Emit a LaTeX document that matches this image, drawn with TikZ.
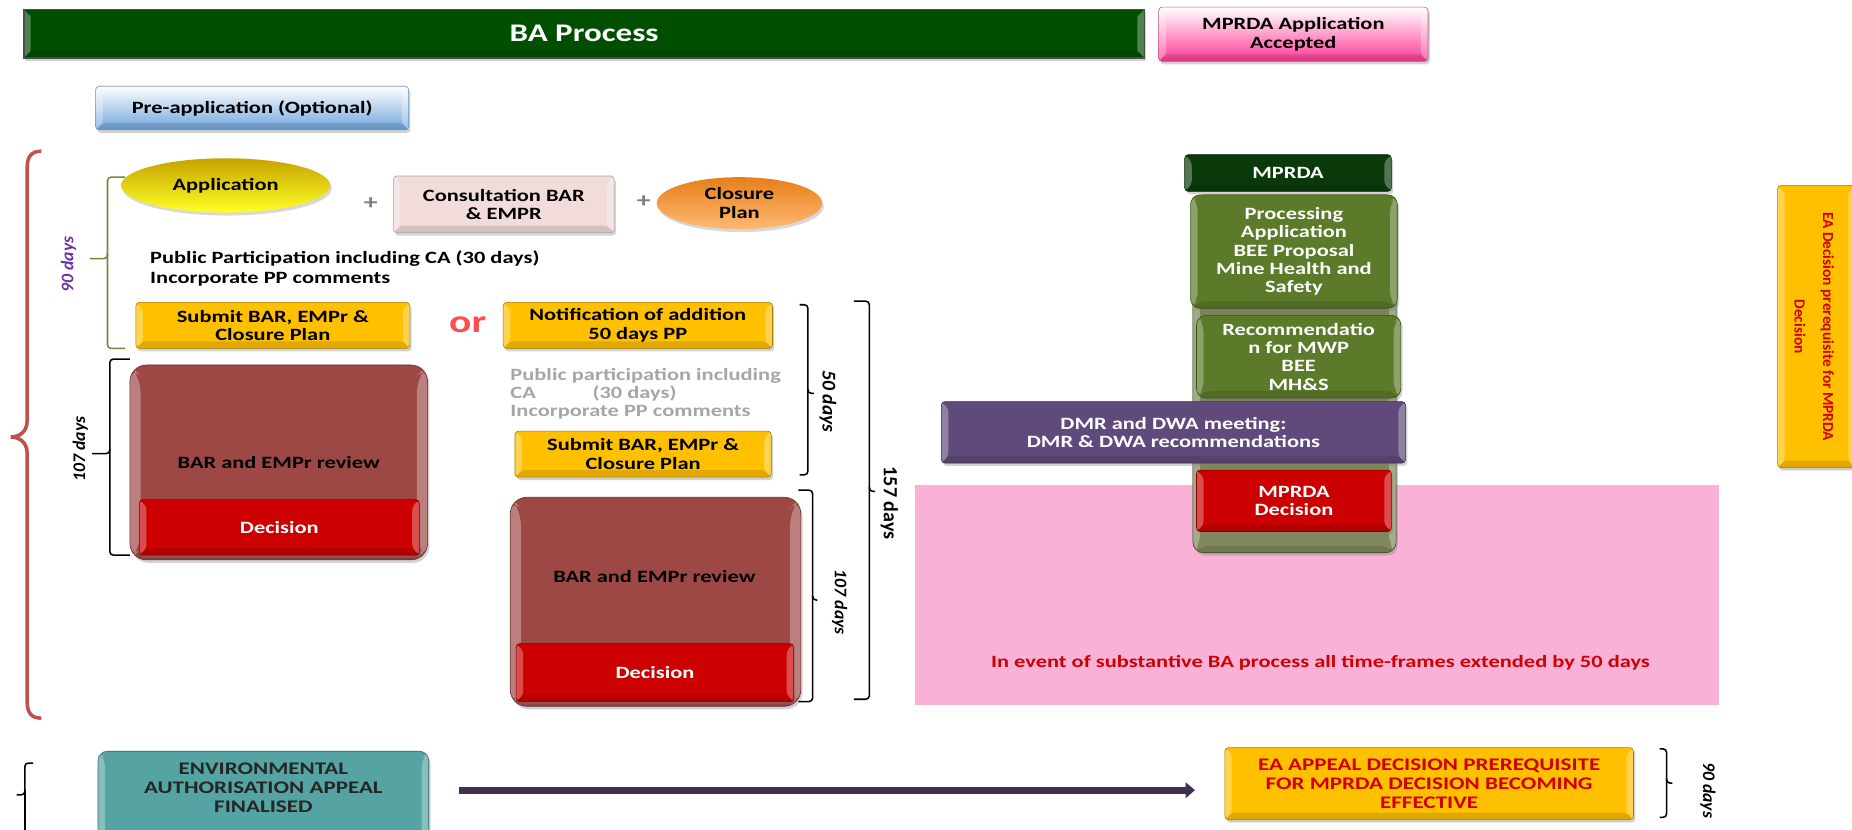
\documentclass[tikz,border=0pt]{standalone}
\usepackage{fontspec}
\setmainfont{Carlito}[FakeStretch=1.3]
\newfontfamily\rotfont{Carlito}
\usetikzlibrary{shadows,shapes.geometric,arrows.meta}
\definecolor{cBA}{HTML}{007000}
\definecolor{cBAd}{HTML}{004F00}
\definecolor{cHot}{HTML}{FF3A96}
\definecolor{cBlue}{HTML}{6FA6DC}
\definecolor{cYel}{HTML}{FFC000}
\definecolor{cRose}{HTML}{F2DCDB}
\definecolor{cRev}{HTML}{9E4846}
\definecolor{cDec}{HTML}{CC0000}
\definecolor{cDkGreen}{HTML}{0A3A0A}
\definecolor{cOliv}{HTML}{5B7A2A}
\definecolor{cCol}{HTML}{5F6C32}
\definecolor{cPurp}{HTML}{604A7B}
\definecolor{cPink}{HTML}{F9B1D8}
\definecolor{cTeal}{HTML}{55A3A3}
\definecolor{cArrow}{HTML}{403152}
\definecolor{cRedTxt}{HTML}{D00000}
\definecolor{cGrey}{HTML}{A6A6A6}
\definecolor{cBrace}{HTML}{C0504D}
\definecolor{cGBrace}{HTML}{6E8B3D}
\definecolor{cPurTxt}{HTML}{7030A0}
\newcommand\myfs{\fontsize{14.6}{15.5}\selectfont}
\tikzset{
  bevel/.style={path picture={
    \fill[white,opacity=0.3] (path picture bounding box.north west) -- ++(#1,-#1)
      -- ([shift={(#1,#1)}]path picture bounding box.south west) -- (path picture bounding box.south west) -- cycle;
    \fill[white,opacity=0.3] (path picture bounding box.north east) -- ++(-#1,-#1)
      -- ([shift={(-#1,#1)}]path picture bounding box.south east) -- (path picture bounding box.south east) -- cycle;
    \fill[black,opacity=0.12] (path picture bounding box.south west) -- ([shift={(#1,#1)}]path picture bounding box.south west)
      -- ([shift={(-#1,#1)}]path picture bounding box.south east) -- (path picture bounding box.south east) -- cycle;
  }},
  pbox/.style={draw=#1!65!black, line width=0.5pt, rounded corners=3pt, fill=#1,
    drop shadow={opacity=0.35,shadow xshift=1.5pt,shadow yshift=-2.5pt},
    inner sep=0pt, align=center, font=\bfseries\myfs, bevel=6pt},
  brk/.style={draw=black, line width=1.3pt, rounded corners=3pt},
  rlab/.style={font=\rotfont\itshape\bfseries\fontsize{15}{16}\selectfont, inner sep=0pt},
  txt/.style={font=\bfseries\myfs, inner sep=0pt, align=left},
}
\begin{document}
\begin{tikzpicture}[x=1pt,y=-1pt]
\clip (0,0) rectangle (1568,702);
\fill[white] (0,0) rectangle (1568,702);

% ---- top row
\node[pbox=cBA, rounded corners=0pt, draw=black!70, line width=1.5pt, top color=cBAd, middle color=cBA, bottom color=cBAd,
      minimum width=949pt, minimum height=41pt, font=\bfseries\fontsize{21.5}{24}\selectfont, text=white] (ba) at (494.5,28.5) {BA Process};
\node[pbox=cHot, top color=white, bottom color=cHot, draw=cHot!50!gray, minimum width=228pt, minimum height=46pt] (acc) at (1095,29) {MPRDA Application\\Accepted};
\node[pbox=cBlue, top color=white, bottom color=cBlue, draw=cBlue!60!gray, minimum width=265pt, minimum height=37pt] (pre) at (213.5,91.5) {Pre-application (Optional)};

% ---- big red brace
\draw[cBrace, line width=3pt] (35,128) .. controls (27,128) and (23,132) .. (23,142) -- (23,356)
   .. controls (23,366) and (16,370) .. (9,370) .. controls (16,370) and (23,374) .. (23,384)
   -- (23,594) .. controls (23,604) and (27,608) .. (35,608);
% green brace
\draw[cGBrace, line width=1.3pt, rounded corners=3pt] (106,150) -- (91,150) -- (91,219) -- (76,219);
\draw[cGBrace, line width=1.3pt, rounded corners=3pt] (91,215) -- (91,295) -- (106,295);
\node[rlab, text=cPurTxt, rotate=90] (d90) at (58,224) {90 days};

% ---- application row
\node[ellipse, inner sep=0pt, minimum width=177pt, minimum height=46pt, top color=cYel!55!olive, bottom color=yellow!85!white,
      drop shadow={opacity=0.3,shadow xshift=1.5pt,shadow yshift=-2.5pt}, font=\bfseries\myfs] (app) at (191,157) {Application};
\node[font=\bfseries\fontsize{18}{18}\selectfont, text=gray, inner sep=0pt] (plusa) at (314,172) {+};
\node[pbox=cRose, draw=gray!70, minimum width=187pt, minimum height=48pt] (cons) at (426.5,173) {Consultation BAR\\\& EMPR};
\node[font=\bfseries\fontsize{18}{18}\selectfont, text=gray, inner sep=0pt] (plusb) at (545,171) {+};
\node[ellipse, inner sep=0pt, align=center, minimum width=140pt, minimum height=44pt, top color=orange!60!brown, bottom color=orange!55!white,
      drop shadow={opacity=0.3,shadow xshift=1.5pt,shadow yshift=-2.5pt}, font=\bfseries\myfs] (clos) at (626,172) {Closure\\Plan};

\node[txt, anchor=west, font=\bfseries\fontsize{14.6}{17}\selectfont] (pp) at (127,227.5) {Public Participation including CA (30 days)\\Incorporate PP comments};

\node[pbox=cYel, minimum width=232pt, minimum height=39pt] (sub1) at (231,275.5) {Submit BAR, EMPr \&\\Closure Plan};
\node[font=\bfseries\fontsize{27}{27}\selectfont, text=red!70!white, inner sep=0pt] (or) at (396,275) {or};
\node[pbox=cYel, minimum width=228pt, minimum height=39pt] (notif) at (540,275.5) {Notification of addition\\50 days PP};

\node[txt, anchor=west, text=cGrey] (pp2) at (432,333.5) {Public participation including\\CA\hspace*{48pt}(30 days)\\Incorporate PP comments};
\node[pbox=cYel, minimum width=217pt, minimum height=39pt] (sub2) at (544.5,384.5) {Submit BAR, EMPr \&\\Closure Plan};

% ---- review boxes
\node[pbox=cRev, rounded corners=14pt, bevel=9pt, minimum width=252pt, minimum height=165pt] (rev1) at (236,391.5) {BAR and EMPr review};
\node[pbox=cDec, text=white, minimum width=237pt, minimum height=47pt] (dec1) at (236.5,446.5) {Decision};
\node[pbox=cRev, rounded corners=14pt, bevel=9pt, minimum width=246pt, minimum height=177pt] (rev2) at (555,509.5) {};
\node[txt] (rev2t) at (554,488) {BAR and EMPr review};
\node[pbox=cDec, text=white, minimum width=235pt, minimum height=49pt] (dec2) at (554.5,569.5) {Decision};

% ---- brackets
\draw[brk] (110,304) -- (93,304) -- (93,384) -- (78,384);
\draw[brk] (93,380) -- (93,470) -- (110,470);
\node[rlab, rotate=90] (d107a) at (68,380) {107 days};
\draw[brk] (677,258) -- (684,258) -- (684,333) -- (689,333);
\draw[brk] (684,329) -- (684,402) -- (677,402);
\node[rlab, font=\rotfont\itshape\bfseries\fontsize{16.5}{17}\selectfont, rotate=-90] (d50) at (701,340) {50 days};
\draw[brk] (723,255) -- (736,255) -- (736,416) -- (741,416);
\draw[brk] (736,412) -- (736,592) -- (723,592);
\node[font=\rotfont\bfseries\fontsize{17}{18}\selectfont, inner sep=0pt, rotate=-90] (d157) at (753,426) {157 days};
\draw[brk] (676,415) -- (688,415) -- (688,508) -- (692,508);
\draw[brk] (688,504) -- (688,594) -- (676,594);
\node[rlab, rotate=-90] (d107b) at (711,510) {107 days};

% ---- pink area
\node[fill=cPink, minimum width=680pt, minimum height=186pt, inner sep=0pt] (pink) at (1115,504) {};
\node[font=\bfseries\myfs, text=cRedTxt, inner sep=0pt] (pinkt) at (1118,561) {In event of substantive BA process all time-frames extended by 50 days};

% ---- MPRDA column
\node[pbox=cCol, rounded corners=9pt, top color=cCol!85!white, bottom color=cCol!80!white, minimum width=172pt, minimum height=303pt] (col) at (1096,316.5) {};
\node[pbox=cDkGreen, text=white, minimum width=175pt, minimum height=31pt] (mp) at (1090.5,146.5) {MPRDA};
\node[pbox=cOliv, rounded corners=8pt, text=white, minimum width=175pt, minimum height=96pt] (proc) at (1095.5,213) {Processing\\Application\\BEE Proposal\\Mine Health and\\Safety};
\node[pbox=cOliv, rounded corners=8pt, text=white, minimum width=173pt, minimum height=70pt] (rec) at (1099.5,302) {Recommendatio\\n for MWP\\BEE\\MH\&S};
\node[pbox=cPurp, text=white, minimum width=393pt, minimum height=52pt] (dmr) at (993.5,366) {DMR and DWA meeting:\\DMR \& DWA recommendations};
\node[pbox=cDec, text=white, minimum width=165pt, minimum height=52pt] (mdec) at (1095.5,424) {MPRDA\\Decision};

% ---- EA decision vertical
\node[pbox=cYel, minimum width=66pt, minimum height=239pt] (ead) at (1538,276.5) {};
\node[font=\rotfont\bfseries\fontsize{13}{24}\selectfont, text=cRedTxt, inner sep=0pt, align=center, rotate=-90] (eadt) at (1536,276.5) {EA Decision prerequisite for MPRDA\\Decision};

% ---- bottom row
\draw[brk] (28,646) -- (21,646) -- (21,673) -- (14,673);
\draw[brk] (21,669) -- (21,760);
\node[pbox=cTeal, rounded corners=8pt, minimum width=280pt, minimum height=80pt] (teal) at (223,676) {};
\node[text=black!85, inner sep=0pt, align=center, font=\bfseries\fontsize{15}{16}\selectfont] (tealt) at (223,667) {ENVIRONMENTAL\\AUTHORISATION APPEAL\\FINALISED};
\node[pbox=cYel, text=cRedTxt, minimum width=346pt, minimum height=61pt, font=\bfseries\fontsize{15}{16}\selectfont] (appeal) at (1210,663.5) {EA APPEAL DECISION PREREQUISITE\\FOR MPRDA DECISION BECOMING\\EFFECTIVE};
\draw[cArrow, line width=6pt, -{Triangle[length=8pt,width=13pt]}] ([xshift=25pt,yshift=7pt]teal.east) -- ([xshift=-25pt,yshift=-5.5pt]appeal.west);
\draw[brk] (1405,634) -- (1411,634) -- (1411,663) -- (1416,663);
\draw[brk] (1411,659) -- (1411,692) -- (1405,692);
\node[rlab, rotate=-90] (d90b) at (1446,669) {90 days};
\end{tikzpicture}
\end{document}
